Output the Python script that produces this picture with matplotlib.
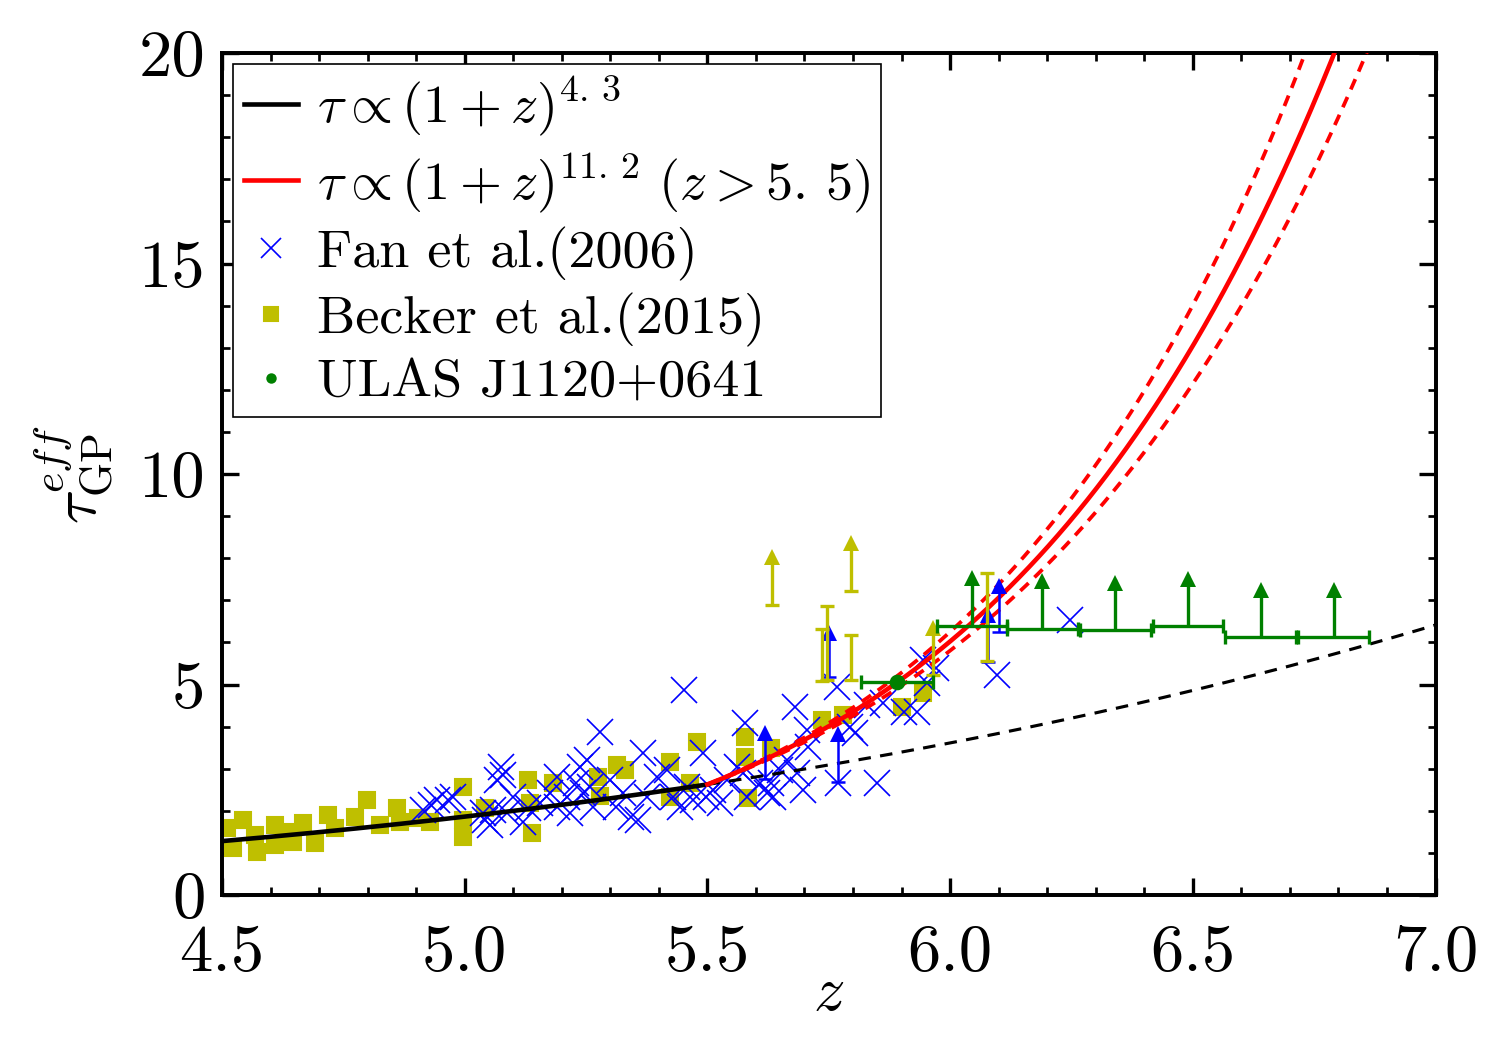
import numpy as np
import matplotlib
matplotlib.use("Agg")
import matplotlib.pyplot as plt
from matplotlib import ticker

# --- data ---

# Fan et al. (2006), blue crosses
fan_z = [4.914, 4.930, 4.942, 4.965, 4.976, 5.038, 5.042, 5.052, 5.059, 5.067,
         5.075, 5.079, 5.087, 5.100, 5.131, 5.120, 5.155, 5.176, 5.190, 5.190,
         5.211, 5.217, 5.238, 5.244, 5.230, 5.279, 5.252, 5.258, 5.265, 5.300,
         5.312, 5.327, 5.342, 5.357, 5.368, 5.375, 5.396, 5.417, 5.430, 5.444,
         5.451, 5.458, 5.471, 5.491, 5.498, 5.512, 5.526, 5.540, 5.561, 5.574,
         5.578, 5.582, 5.609, 5.622, 5.636, 5.664, 5.650, 5.630, 5.681, 5.685,
         5.697, 5.706, 5.708, 5.767, 5.770, 5.794, 5.804, 5.829, 5.850, 5.862,
         5.904, 5.932, 5.945, 5.953, 5.970, 6.097, 6.248]
fan_tau = [2.02, 2.14, 2.26, 2.26, 2.33, 1.95, 1.78, 1.66, 2.02, 2.73,
           3.05, 2.85, 1.95, 2.33, 2.07, 1.74, 2.18, 2.42, 2.80, 2.09,
           2.33, 1.95, 3.04, 2.42, 2.66, 3.87, 3.21, 2.57, 2.09, 2.73,
           2.09, 2.42, 1.85, 1.78, 3.37, 2.33, 2.80, 2.97, 2.33, 2.09,
           4.87, 2.57, 2.26, 3.37, 2.33, 2.49, 2.18, 2.73, 3.04, 2.90,
           4.09, 2.33, 2.66, 2.42, 2.33, 3.21, 2.97, 2.66, 4.47, 2.90,
           2.49, 3.92, 3.52, 4.94, 2.66, 3.99, 3.85, 4.51, 2.66, 4.56,
           4.35, 4.35, 5.58, 5.04, 5.40, 5.23, 6.53]

# Fan et al. (2006) lower limits
fan_lim_z = [5.619, 5.769, 5.750, 6.100, 6.079]
fan_lim_tau = [2.76, 2.69, 5.17, 6.25, 5.53]
fan_lim_len = [1.28, 1.31, 1.24, 1.28, 1.29]

# Becker et al. (2015), yellow squares
becker_z = [4.510, 4.523, 4.543, 4.568, 4.572, 4.609, 4.609, 4.633, 4.646, 4.667,
            4.692, 4.718, 4.733, 4.774, 4.798, 4.826, 4.860, 4.867, 4.904, 4.929,
            4.997, 4.996, 4.996, 5.042, 5.131, 5.135, 5.138, 5.182, 5.275, 5.279,
            5.314, 5.331, 5.423, 5.423, 5.465, 5.479, 5.578, 5.578, 5.584, 5.632,
            5.737, 5.780, 5.901, 5.945]
becker_tau = [1.59, 1.12, 1.78, 1.43, 1.02, 1.66, 1.19, 1.50, 1.26, 1.71,
              1.24, 1.90, 1.59, 1.85, 2.26, 1.66, 2.07, 1.74, 1.83, 1.73,
              2.57, 1.78, 1.38, 2.07, 2.73, 2.18, 1.47, 2.66, 2.80, 2.35,
              3.09, 2.97, 3.16, 2.33, 2.66, 3.63, 3.75, 3.28, 2.30, 3.50,
              4.16, 4.27, 4.47, 4.80]

# Becker et al. (2015) lower limits
becker_lim_z = [5.634, 5.796, 5.964]
becker_lim_tau = [6.90, 7.22, 5.23]
becker_lim_len = [1.32, 1.32, 1.30]

# Becker et al. (2015) two-sided ranges
becker_rng_z = [5.746, 5.736, 5.796, 6.075]
becker_rng_lo = [5.11, 5.09, 5.11, 5.56]
becker_rng_hi = [6.86, 6.33, 6.18, 7.66]

# ULAS J1120+0641
ulas_z = [5.890]
ulas_tau = [5.05]
ulas_zerr = [0.074]

ulas_lim_z = [6.045, 6.190, 6.340, 6.490, 6.640, 6.790]
ulas_lim_tau = [6.39, 6.33, 6.29, 6.38, 6.12, 6.12]
ulas_lim_zerr = 0.073
ulas_lim_len = [1.31] * 6

# power-law fits
tau0, z0, slope_lo = 0.85, 4.0, 4.3
slope_hi, slope_hi_err = 11.2, 0.5
z_break = 5.5


def tau_low(z):
    return tau0 * ((1 + z) / (1 + z0)) ** slope_lo


def tau_high(z, s):
    return tau_low(z_break) * ((1 + z) / (1 + z_break)) ** s


def lower_limits(ax, z, tau, length, color, lw, cap=True, zorder=5):
    # stem + bottom cap + arrow head with its tip at tau + length
    z = np.asarray(z)
    tau = np.asarray(tau)
    top = tau + np.asarray(length)
    ax.vlines(z, tau, top - 0.1, color=color, lw=lw, zorder=zorder)
    if cap:
        ax.plot(z, tau, ls='none', marker='_', ms=7, mew=lw, color=color,
                zorder=zorder)
    ax.plot(z, top - 0.18, ls='none', marker='^', ms=7.5, mew=0, color=color,
            zorder=zorder)


# --- plotting ---
plt.rcParams['font.family'] = 'serif'
plt.rcParams['font.serif'] = ['cmr10']
plt.rcParams['mathtext.fontset'] = 'cm'
plt.rcParams['axes.formatter.use_mathtext'] = True
plt.rcParams['axes.linewidth'] = 1.9
plt.rcParams['xtick.direction'] = 'in'
plt.rcParams['ytick.direction'] = 'in'

fig = plt.figure(figsize=(10, 7), dpi=150)
ax = fig.add_axes([0.148, 0.1476, 0.809, 0.8019])

z_a = np.linspace(4.5, z_break, 200)
z_b = np.linspace(z_break, 7.0, 300)
ax.plot(z_a, tau_low(z_a), color='k', lw=2.2, zorder=4,
        label=r'$\tau \propto (1+z)^{4.\,3}$')
ax.plot(z_b, tau_low(z_b), color='k', lw=1.5, ls=(0, (4, 3)), zorder=4)
ax.plot(z_b, tau_high(z_b, slope_hi), color='r', lw=2.2, zorder=4,
        label=r'$\tau \propto (1+z)^{11.\,2}\ (z > 5.\,5)$')
ax.plot(z_b, tau_high(z_b, slope_hi + slope_hi_err), color='r', lw=1.8,
        ls=(0, (3, 2.2)), zorder=4)
ax.plot(z_b, tau_high(z_b, slope_hi - slope_hi_err), color='r', lw=1.8,
        ls=(0, (3, 2.2)), zorder=4)

ax.plot(fan_z, fan_tau, ls='none', marker='x', ms=12.5, mew=0.8, color='b',
        zorder=3, label='Fan et al.(2006)')
lower_limits(ax, fan_lim_z, fan_lim_tau, fan_lim_len, 'b', 1.2)

ax.plot(becker_z, becker_tau, ls='none', marker='s', ms=8, color='y',
        mec='y', zorder=2, label='Becker et al.(2015)')
lower_limits(ax, becker_lim_z, becker_lim_tau, becker_lim_len, 'y', 1.6)
rng_mid = [(a + b) / 2 for a, b in zip(becker_rng_lo, becker_rng_hi)]
rng_err = [(b - a) / 2 for a, b in zip(becker_rng_lo, becker_rng_hi)]
ax.errorbar(becker_rng_z, rng_mid, yerr=rng_err, fmt='none', ecolor='y',
            elinewidth=1.6, capsize=3.5, capthick=1.6, zorder=5)

ax.errorbar(ulas_z, ulas_tau, xerr=ulas_zerr, fmt='o', ms=6.5, color='g',
            ecolor='g', elinewidth=1.6, capsize=3.5, capthick=1.6, zorder=6)
ax.plot([], [], ls='none', marker='o', ms=5, color='g', label='ULAS J1120+0641')
ax.errorbar(ulas_lim_z, ulas_lim_tau, xerr=ulas_lim_zerr, fmt='none',
            ecolor='g', elinewidth=1.6, capsize=3.5, capthick=1.6, zorder=6)
lower_limits(ax, ulas_lim_z, ulas_lim_tau, ulas_lim_len, 'g', 1.6, cap=False,
             zorder=6)

ax.set_xlim(4.5, 7.0)
ax.set_ylim(0, 20)
ax.xaxis.set_major_locator(ticker.MultipleLocator(0.5))
ax.xaxis.set_minor_locator(ticker.MultipleLocator(0.1))
ax.yaxis.set_major_locator(ticker.MultipleLocator(5))
ax.yaxis.set_minor_locator(ticker.MultipleLocator(1))
ax.xaxis.set_major_formatter(ticker.FormatStrFormatter('%.1f'))
ax.yaxis.set_major_formatter(ticker.FormatStrFormatter('%d'))
ax.tick_params(which='both', top=True, right=True)
ax.tick_params(which='major', length=8, width=1.6, labelsize=32)
ax.tick_params(axis='x', which='major', pad=14)
ax.tick_params(axis='y', which='major', pad=8)
ax.tick_params(which='minor', length=4, width=1.3)

ax.set_xlabel(r'$z$', fontsize=30, labelpad=-8)
ax.set_ylabel(r'$\tau_{\rm GP}^{eff}$', fontsize=30)
ax.yaxis.set_label_coords(-0.088, 0.5)

leg = ax.legend(loc='upper left', fontsize=26, frameon=True, fancybox=False,
                edgecolor='k', framealpha=1, borderaxespad=0.2,
                handlelength=1.0, handletextpad=0.35, labelspacing=0.22,
                borderpad=0.2, markerscale=0.8, numpoints=1)
leg.get_frame().set_linewidth(0.8)

fig.savefig('out.png', dpi=150)
